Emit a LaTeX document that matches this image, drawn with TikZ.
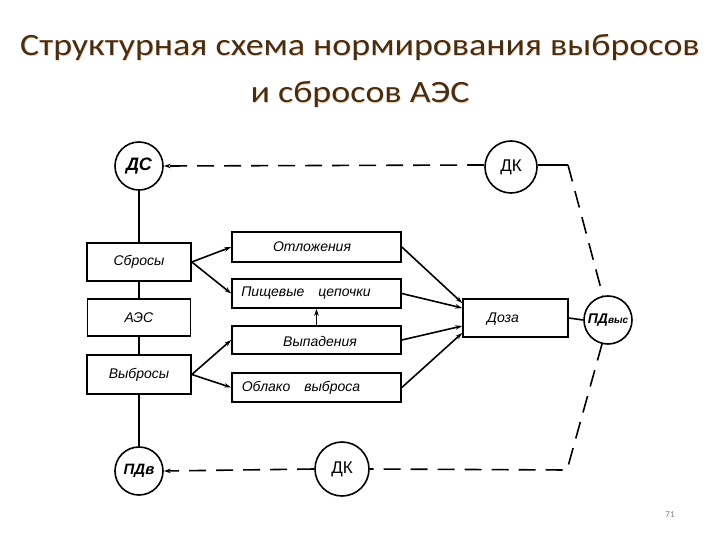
\documentclass[tikz,border=0pt]{standalone}
\usepackage{fontspec}
\setmainfont{Carlito}
\newfontfamily\hand{Liberation Sans}
\newfontfamily\dkfont{Liberation Sans}
\usetikzlibrary{arrows.meta,calc}
\definecolor{titlebrown}{RGB}{70,45,20}
\definecolor{titleglow}{RGB}{225,150,80}
\begin{document}
\begin{tikzpicture}[x=1pt,y=-1pt,
  line width=1.6pt,
  box/.style={draw,rectangle,inner sep=0pt,font=\hand\itshape\fontsize{14}{14}\selectfont},
  circ/.style={draw,circle,inner sep=0pt,font=\hand\itshape\bfseries\fontsize{18}{18}\selectfont},
  dkcirc/.style={draw,circle,inner sep=0pt,font=\dkfont\fontsize{17}{17}\selectfont},
  lbl/.style={inner sep=0pt,font=\hand\itshape\fontsize{14}{14}\selectfont},
  arr/.style={-{Stealth[length=7pt,width=4.5pt]}},
  dsh/.style={dash pattern=on 17pt off 10pt},
  ttl/.style={font=\fontsize{31}{31}\selectfont, inner sep=0pt}
]
\useasboundingbox (0,0) rectangle (720,540);

% title with soft glow
\node[ttl,text=titleglow!45,anchor=base] at (360.7,56.6) {\scalebox{1.16}[1]{Структурная схема нормирования выбросов}};
\node[ttl,text=titlebrown,anchor=base] (t1) at (360,56) {\scalebox{1.16}[1]{Структурная схема нормирования выбросов}};
\node[ttl,text=titleglow!45,anchor=base] at (360.7,103.6) {\scalebox{1.16}[1]{и сбросов АЭС}};
\node[ttl,text=titlebrown,anchor=base] (t2) at (360,103) {\scalebox{1.16}[1]{и сбросов АЭС}};

% circles
\node[circ,minimum size=48pt] (ds) at (139,166) {ДС};
\node[dkcirc,minimum size=52pt] (dk1) at (511,167) {ДК};
\node[circ,minimum size=48pt] (pdvys) at (608,320) {\fontsize{14}{14}\selectfont ПД\fontsize{10}{10}\selectfont выс};
\node[dkcirc,minimum size=54pt] (dk2) at (342,469) {ДК};
\node[circ,minimum size=48pt,font=\hand\itshape\bfseries\fontsize{15}{15}\selectfont] (pdv) at (139,471) {ПДв};

% left column
\node[box,minimum width=104pt,minimum height=38pt] (sb) at (139,262) {Сбросы};
\node[box,minimum width=103pt,minimum height=37pt] (aes) at (139,317.5) {АЭС};
\node[box,minimum width=104pt,minimum height=39pt] (vyb) at (139,374.5) {Выбросы};

% middle column
\node[box,minimum width=169pt,minimum height=30pt] (otl) at (316.5,247) {};
\node[lbl] (otlt) at (312,247) {Отложения};
\node[box,minimum width=169pt,minimum height=29pt] (pish) at (316.5,293.5) {};
\node[lbl] (pisht) at (306,293.5) {Пищевые\quad цепочки};
\node[box,minimum width=169pt,minimum height=28pt] (vyp) at (316.5,340) {};
\node[lbl] (vypt) at (320,341) {Выпадения};
\node[box,minimum width=169pt,minimum height=29pt] (obl) at (316.5,387.5) {};
\node[lbl] (oblt) at (301,387.5) {Облако\quad выброса};

% dose
\node[box,minimum width=105pt,minimum height=38pt] (doza) at (515.5,318) {};
\node[lbl] (dozat) at (503,319) {Доза};

% vertical chain
\draw (ds.south) -- (sb.north);
\draw (sb.south) -- (aes.north);
\draw (aes.south) -- (vyb.north);
\draw (vyb.south) -- (pdv.north);

% source arrows
\draw[arr] (sb.east) -- (otl.west);
\draw[arr] (sb.east) -- (pish.west);
\draw[arr] (vyb.east) -- (vyp.west);
\draw[arr] (vyb.east) -- (obl.west);
\draw[arr] (vyp.north) -- (pish.south);

% to dose
\draw[arr] (otl.east) -- ([yshift=15pt]doza.west);
\draw[arr] (pish.east) -- ([yshift=10pt]doza.west);
\draw[arr] (vyp.east) -- ([yshift=-8pt]doza.west);
\draw[arr] (obl.east) -- ([yshift=-15pt]doza.west);
\draw (doza.east) -- (pdvys.west);

% control loops
\coordinate (tr) at (568,165);
\coordinate (br) at (567,470);
\draw[arr,dsh] (dk1.west |- 0,165) -- (ds.east);
\draw (dk1.east |- 0,165) -- (tr);
\draw[dsh] (tr) -- (pdvys.102);
\draw[dsh] (pdvys.256) -- (br) -- (dk2.east);
\draw[arr,dsh] (dk2.west) -- (pdv.east);

% page number
\node[font=\fontsize{9}{9}\selectfont,text=gray] (pg) at (670,515) {71};
\end{tikzpicture}
\end{document}
